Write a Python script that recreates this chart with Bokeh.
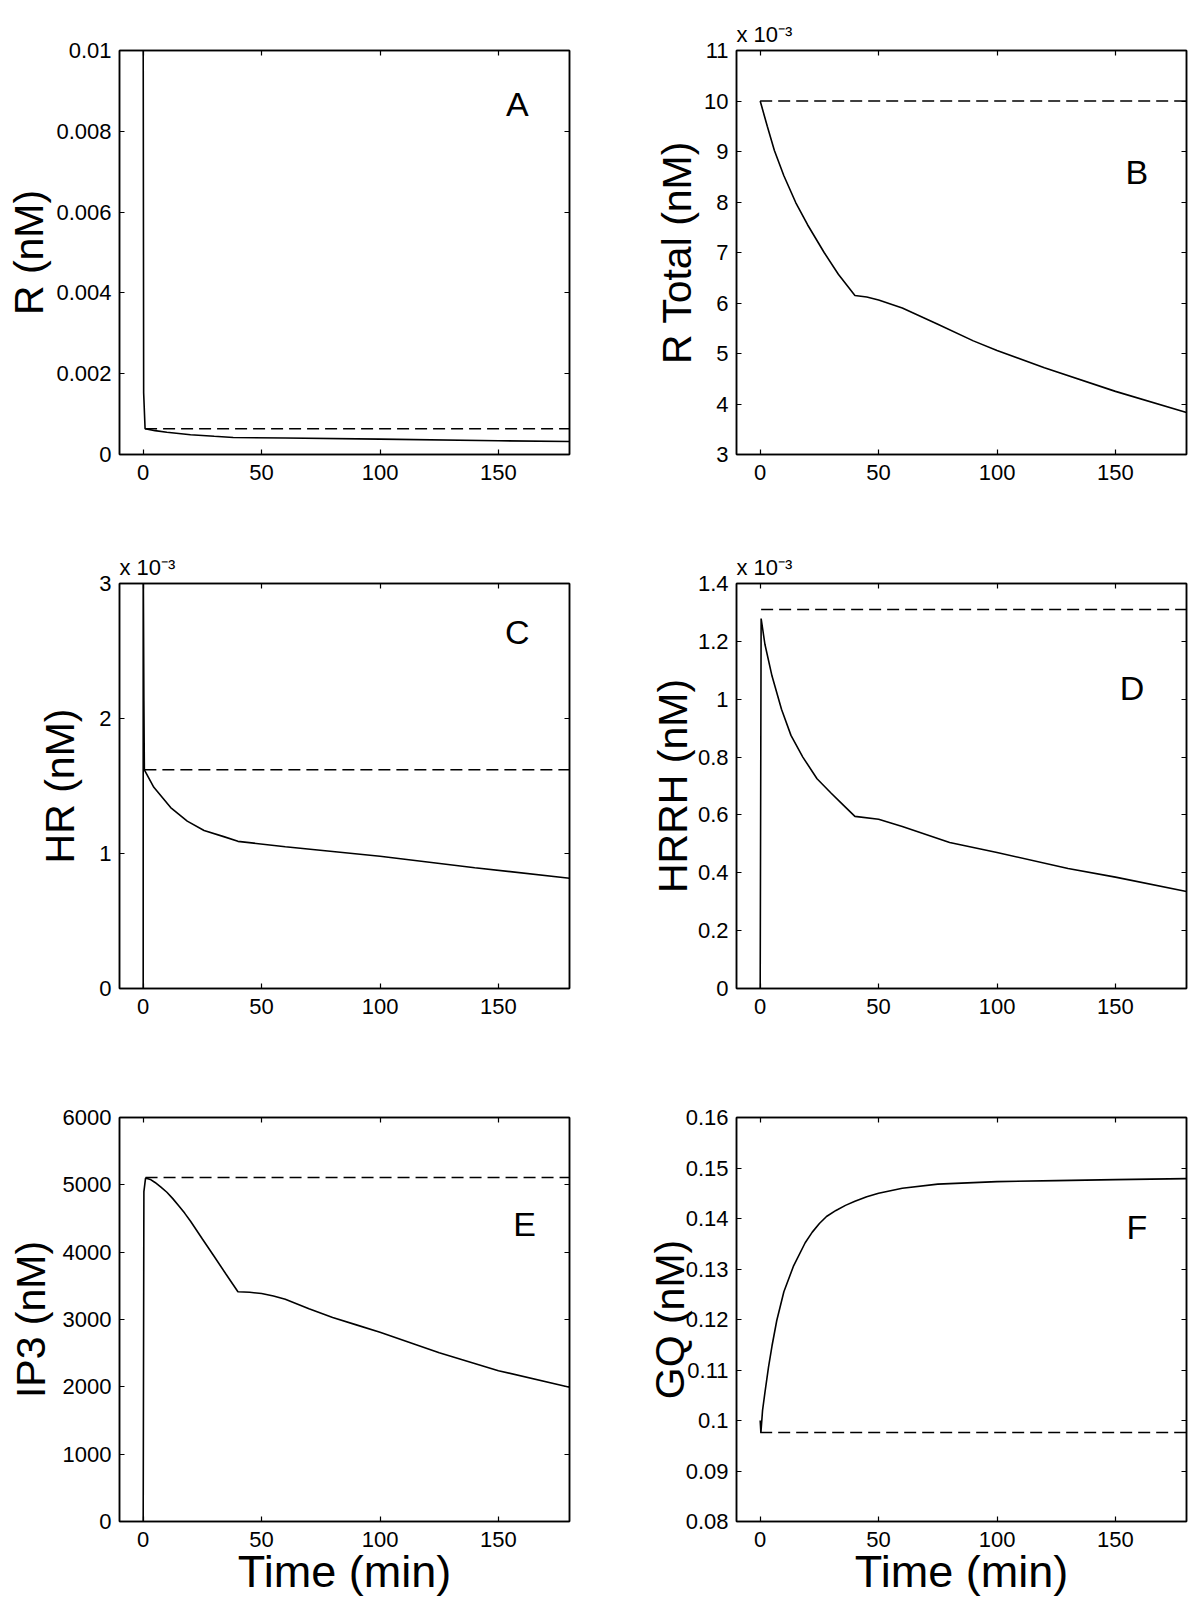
from bokeh.plotting import figure
from bokeh.models import LinearAxis, FixedTicker, Label, Range1d, Title
from bokeh.layouts import column, row
from bokeh.embed import file_html
from bokeh.resources import INLINE

FONT = "Liberation Sans"

# ---------------- data ----------------
x_ticks = [0, 50, 100, 150]
x_tick_labels = ["0", "50", "100", "150"]

# Panel A: R (nM)
a_t = [0, 0.2, 0.8, 5, 10, 20, 30, 38, 60, 100, 150, 180]
a_val = [0.0105, 0.00152, 0.00064, 0.00059, 0.00055, 0.00049, 0.00045, 0.00042, 0.00041, 0.00038, 0.00034, 0.00032]
a_dash_t = [0.8, 180]
a_dash = [0.00064, 0.00064]
a_yticks = [0, 0.002, 0.004, 0.006, 0.008, 0.01]
a_ylabels = ["0", "0.002", "0.004", "0.006", "0.008", "0.01"]

# Panel B: R Total (x 10^-3 nM)
b_t = [0, 3, 6, 10, 15, 20, 27, 33, 40, 45, 50, 60, 75, 90, 100, 120, 150, 180]
b_val = [10.0, 9.5, 9.02, 8.52, 7.99, 7.55, 7.0, 6.57, 6.15, 6.12, 6.06, 5.9, 5.58, 5.25, 5.06, 4.72, 4.25, 3.83]
b_dash_t = [0, 180]
b_dash = [10.0, 10.0]
b_yticks = [3, 4, 5, 6, 7, 8, 9, 10, 11]
b_ylabels = ["3", "4", "5", "6", "7", "8", "9", "10", "11"]

# Panel C: HR (x 10^-3 nM)
c_t = [0, 0, 0.3, 0.5, 4.5, 11.6, 18.6, 25.7, 34, 40, 60, 100, 140, 180]
c_val = [0, 3.3, 2.13, 1.62, 1.49, 1.34, 1.24, 1.17, 1.125, 1.09, 1.05, 0.98, 0.895, 0.817]
c_dash_t = [0.5, 180]
c_dash = [1.62, 1.62]
c_yticks = [0, 1, 2, 3]
c_ylabels = ["0", "1", "2", "3"]

# Panel D: HRRH (x 10^-3 nM)
d_t = [0, 0.4, 2, 5, 9, 13, 18, 24, 30, 35, 40, 50, 60, 80, 100, 130, 150, 180]
d_val = [0, 1.279, 1.19, 1.08, 0.965, 0.875, 0.80, 0.725, 0.675, 0.635, 0.595, 0.585, 0.56, 0.505, 0.47, 0.415, 0.385, 0.335]
d_dash_t = [0.4, 180]
d_dash = [1.31, 1.31]
d_yticks = [0, 0.2, 0.4, 0.6, 0.8, 1.0, 1.2, 1.4]
d_ylabels = ["0", "0.2", "0.4", "0.6", "0.8", "1", "1.2", "1.4"]

# Panel E: IP3 (nM)
e_t = [0, 0.3, 1, 3, 5, 7.5, 10, 12.5, 15, 17.5, 20, 25, 30, 35, 40, 45, 50, 55, 60, 70, 80, 90, 100, 125, 150, 180]
e_val = [0, 4900, 5100, 5080, 5035, 4965, 4890, 4795, 4690, 4580, 4460, 4195, 3935, 3672, 3413, 3405, 3385, 3350, 3300, 3160, 3030, 2920, 2810, 2505, 2240, 1994]
e_dash_t = [1, 180]
e_dash = [5110, 5110]
e_yticks = [0, 1000, 2000, 3000, 4000, 5000, 6000]
e_ylabels = ["0", "1000", "2000", "3000", "4000", "5000", "6000"]

# Panel F: GQ (nM)
f_t = [0, 0.3, 1, 2, 3.5, 5, 7, 10, 14, 19, 22, 25, 28, 32, 36, 40, 45, 50, 60, 75, 100, 125, 150, 180]
f_val = [0.100, 0.0976, 0.102, 0.1055, 0.1105, 0.1148, 0.1198, 0.1255, 0.1305, 0.1352, 0.1373, 0.1390, 0.1404, 0.1416, 0.1426, 0.1434, 0.1443, 0.1450, 0.1460, 0.1468, 0.1473, 0.1475, 0.1477, 0.1479]
f_dash_t = [0, 180]
f_dash = [0.0976, 0.0976]
f_yticks = [0.08, 0.09, 0.10, 0.11, 0.12, 0.13, 0.14, 0.15, 0.16]
f_ylabels = ["0.08", "0.09", "0.1", "0.11", "0.12", "0.13", "0.14", "0.15", "0.16"]


def panel(width, height, bl, br, bt, bb, yr, yticks, ylabels, t, v, dt, dv,
          ylabel, ylabel_standoff, letter, letter_xy, mult=False, xlabel=False):
    p = figure(width=width, height=height, x_range=Range1d(-10, 180),
               y_range=Range1d(*yr), output_backend="svg", toolbar_location=None,
               tools="", min_border_left=bl, min_border_right=br,
               min_border_top=bt, min_border_bottom=bb)
    p.grid.visible = False
    p.outline_line_color = "black"
    p.outline_line_width = 1.5
    p.background_fill_color = "white"
    p.border_fill_color = "white"

    p.add_layout(LinearAxis(), "right")
    p.add_layout(LinearAxis(), "above")
    for ax in p.xaxis:
        ax.ticker = FixedTicker(ticks=x_ticks)
        ax.major_label_overrides = dict(zip(x_ticks, x_tick_labels))
    for ax in p.yaxis:
        ax.ticker = FixedTicker(ticks=yticks)
        ax.major_label_overrides = dict(zip(yticks, ylabels))
    for ax in p.axis:
        ax.axis_line_color = "black"
        ax.axis_line_width = 1.5
        ax.major_tick_in = 5
        ax.major_tick_out = 0
        ax.major_tick_line_width = 1.2
        ax.major_tick_line_color = "black"
        ax.minor_tick_line_color = None
        ax.major_label_text_font = FONT
        ax.major_label_text_font_size = "22px"
        ax.major_label_text_color = "black"
        ax.major_label_standoff = 8
        ax.axis_label_text_font = FONT
        ax.axis_label_text_font_style = "normal"
        ax.axis_label_text_color = "black"
    for ax in (p.right[0], p.above[0]):
        ax.major_label_text_color = None
        ax.major_label_text_font_size = "1px"
        ax.major_label_standoff = 0
    p.below[0].major_label_standoff = 10

    p.line(t, v, line_color="black", line_width=1.6)
    p.line(dt, dv, line_color="black", line_width=1.5, line_dash="12 6")

    ya = p.left[0]
    ya.axis_label = ylabel
    ya.axis_label_text_font_size = "41px"
    ya.axis_label_standoff = ylabel_standoff

    p.add_layout(Label(x=letter_xy[0], y=letter_xy[1], text=letter,
                       text_align="center", text_baseline="middle",
                       text_font=FONT, text_font_size="34px", text_color="black"))
    if mult:
        p.add_layout(Title(text="x 10\u207b\u00b3", align="left", standoff=8,
                           text_font=FONT, text_font_size="22px",
                           text_font_style="normal", text_color="black"), "above")
    if xlabel:
        xa = p.below[0]
        xa.axis_label = "Time (min)"
        xa.axis_label_text_font_size = "45px"
        xa.axis_label_standoff = -4
    return p


LW, RW = 600, 590
H1, H2, H3 = 530, 534, 538
pA = panel(LW, H1, 119, 31, 50, 76, (0, 0.01), a_yticks, a_ylabels, a_t, a_val,
           a_dash_t, a_dash, "R (nM)", 1, "A", (158, 0.00868))
pB = panel(RW, H1, 136, 4, 50, 76, (3, 11), b_yticks, b_ylabels, b_t, b_val,
           b_dash_t, b_dash, "R Total (nM)", 1, "B", (159, 8.6), mult=True)
pC = panel(LW, H2, 119, 31, 53, 76, (0, 3), c_yticks, c_ylabels, c_t, c_val,
           c_dash_t, c_dash, "HR (nM)", 13, "C", (158, 2.644), mult=True)
pD = panel(RW, H2, 136, 4, 53, 76, (0, 1.4), d_yticks, d_ylabels, d_t, d_val,
           d_dash_t, d_dash, "HRRH (nM)", -1, "D", (157, 1.04), mult=True)
pE = panel(LW, H3, 119, 31, 53, 81, (0, 6000), e_yticks, e_ylabels, e_t, e_val,
           e_dash_t, e_dash, "IP3 (nM)", 6, "E", (161, 4415), xlabel=True)
pF = panel(RW, H3, 136, 4, 53, 81, (0.08, 0.16), f_yticks, f_ylabels, f_t, f_val,
           f_dash_t, f_dash, "GQ (nM)", -10, "F", (159, 0.1383), xlabel=True)

layout = column(row(pA, pB), row(pC, pD), row(pE, pF))
open("out.html", "w").write(file_html(layout, INLINE))
